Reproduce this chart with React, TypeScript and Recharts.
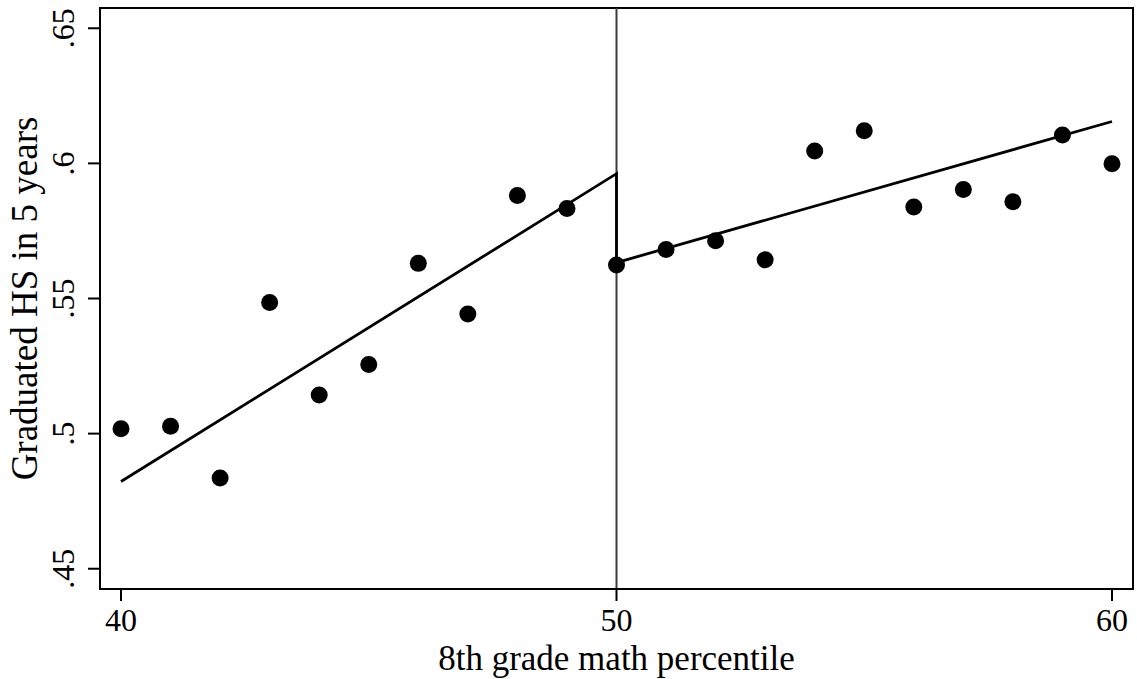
import React from "react"
import {
  ComposedChart,
  Scatter,
  Line,
  XAxis,
  YAxis,
  ReferenceLine,
  ReferenceArea,
  Label
} from "recharts"

// binned means, 8th grade math percentile 40..60
const percentiles = [40, 41, 42, 43, 44, 45, 46, 47, 48, 49, 50, 51, 52, 53, 54, 55, 56, 57, 58, 59, 60]
const gradRate = [
  0.5018, 0.5027, 0.4836, 0.5485, 0.5143, 0.5256, 0.563, 0.5443, 0.5881, 0.5833,
  0.5624, 0.5681, 0.5714, 0.5643, 0.6046, 0.6121, 0.5839, 0.5903, 0.5858, 0.6105, 0.5999
]

// linear fits either side of the cutoff (joined at 50)
const fitX = [40, 50, 50, 60]
const fitY = [0.4823, 0.5962, 0.5633, 0.6155]

const xTicks = [40, 50, 60]
const yTicks = [0.45, 0.5, 0.55, 0.6, 0.65]
const xDomain = [39.576, 60.424]
const yDomain = [0.4425, 0.6575]
const cutoff = 50

const points = percentiles.map((x, i) => ({ x, y: gradRate[i] }))
const fitLine = fitX.map((x, i) => ({ x, y: fitY[i] }))

const FONT = "'Liberation Serif', 'Times New Roman', serif"

const fmtY = (v: number) => String(v).replace(/^0/, "")

function XTick(props: any) {
  const { x, y, payload } = props
  return (
    <text x={x} y={y} textAnchor="middle" fontFamily={FONT} fontSize={32} fill="#000">
      {payload.value}
    </text>
  )
}

function YTick(props: any) {
  const { x, y, payload } = props
  return (
    <text
      transform={`translate(${x}, ${y}) rotate(-90)`}
      textAnchor="middle"
      fontFamily={FONT}
      fontSize={32}
      fill="#000"
    >
      {fmtY(payload.value)}
    </text>
  )
}

function Dot(props: any) {
  return <circle cx={props.cx} cy={props.cy} r={8.5} fill="#000" />
}

export default function App() {
  return (
    <div style={{ position: "absolute", left: 0, top: 0, background: "#fff" }}>
      <ComposedChart width={1137} height={679} margin={{ top: 8, right: 4, bottom: 0, left: 0 }}>
        <XAxis
          type="number"
          dataKey="x"
          domain={xDomain}
          ticks={xTicks}
          allowDataOverflow
          height={90}
          tickSize={12}
          tickMargin={30}
          axisLine={{ stroke: "#000", strokeWidth: 2 }}
          tickLine={{ stroke: "#000", strokeWidth: 2 }}
          tick={<XTick />}
        >
          <Label
            content={({ viewBox }: any) => (
              <text
                x={viewBox.x + viewBox.width / 2}
                y={viewBox.y + 81}
                textAnchor="middle"
                fontFamily={FONT}
                fontSize={35}
                fill="#000"
              >
                8th grade math percentile
              </text>
            )}
          />
        </XAxis>
        <YAxis
          type="number"
          domain={yDomain}
          ticks={yTicks}
          allowDataOverflow
          width={100}
          tickSize={12}
          tickMargin={14}
          axisLine={{ stroke: "#000", strokeWidth: 2 }}
          tickLine={{ stroke: "#000", strokeWidth: 2 }}
          tick={<YTick />}
        >
          <Label
            content={({ viewBox }: any) => (
              <text
                transform={`translate(37, ${viewBox.y + viewBox.height / 2}) rotate(-90)`}
                textAnchor="middle"
                fontFamily={FONT}
                fontSize={37}
                fill="#000"
              >
                Graduated HS in 5 years
              </text>
            )}
          />
        </YAxis>
        <ReferenceArea
          x1={xDomain[0]}
          x2={xDomain[1]}
          y1={yDomain[0]}
          y2={yDomain[1]}
          fill="none"
          stroke="#000"
          strokeWidth={2}
        />
        <ReferenceLine x={cutoff} stroke="#3a3a3a" strokeWidth={2} />
        <Line
          data={fitLine}
          dataKey="y"
          type="linear"
          stroke="#000"
          strokeWidth={2.8}
          dot={false}
          isAnimationActive={false}
        />
        <Scatter data={points} dataKey="y" shape={<Dot />} isAnimationActive={false} />
      </ComposedChart>
    </div>
  )
}
